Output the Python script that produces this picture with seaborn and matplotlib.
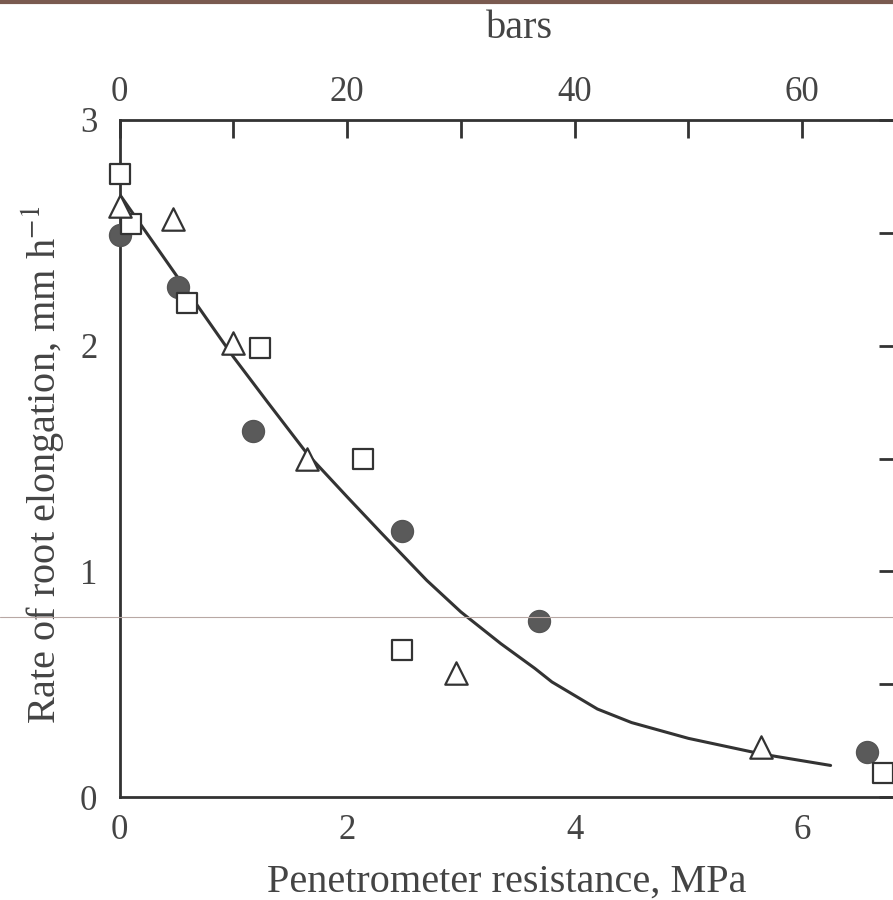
import numpy as np
import pandas as pd
import seaborn as sns
import matplotlib.pyplot as plt
from matplotlib.lines import Line2D

# Data (x in MPa, y in mm/h)
circle_x = [0.0, 0.51, 1.17, 2.48, 3.69, 6.57]
circle_y = [2.49, 2.26, 1.62, 1.18, 0.78, 0.20]

square_x = [0.0, 0.10, 0.59, 1.23, 2.14, 2.48, 6.71]
square_y = [2.76, 2.54, 2.19, 1.99, 1.50, 0.65, 0.105]

triangle_x = [0.0, 0.47, 1.0, 1.65, 2.96, 5.64]
triangle_y = [2.62, 2.56, 2.01, 1.50, 0.55, 0.22]

# fitted curve
curve_x = [0, 0.5, 1.0, 1.3, 1.65, 2.0, 2.3, 2.7, 3.0, 3.2, 3.35, 3.65, 3.8, 4.0,
           4.2, 4.5, 5.0, 5.65, 6.25]
curve_y = [2.67, 2.31, 1.95, 1.75, 1.52, 1.33, 1.17, 0.96, 0.82, 0.74, 0.68, 0.57,
           0.51, 0.45, 0.39, 0.33, 0.26, 0.19, 0.14]

x_ticks = [0, 1, 2, 3, 4, 5, 6]
x_labels = ['0', '', '2', '', '4', '', '6']
bar_ticks = [0, 10, 20, 30, 40, 50, 60]
bar_labels = ['0', '', '20', '', '40', '', '60']
y_ticks = [0, 0.5, 1, 1.5, 2, 2.5, 3]
y_labels = ['0', '', '1', '', '2', '', '3']

sns.set_style('white')
plt.rcParams['font.family'] = ['Liberation Serif', 'DejaVu Serif']
plt.rcParams['mathtext.fontset'] = 'stix'

ink = '#444444'
fig = plt.figure(figsize=(8.93, 9), dpi=100)
ax = fig.add_axes([0.134, 0.1144, 0.870, 0.7523])

sns.lineplot(x=curve_x, y=curve_y, ax=ax, sort=False, estimator=None,
             color='#333333', linewidth=2.2, zorder=2)

sns.scatterplot(x=circle_x, y=circle_y, ax=ax, marker='o', s=250, clip_on=False,
                color='#5a5a5a', edgecolor='#555555', linewidth=1, zorder=3)
sns.scatterplot(x=square_x, y=square_y, ax=ax, marker='s', s=200, clip_on=False,
                color='white', edgecolor='#333333', linewidth=1.6, zorder=3)
sns.scatterplot(x=triangle_x, y=triangle_y, ax=ax, marker='^', s=260, clip_on=False,
                color='white', edgecolor='#333333', linewidth=1.6, zorder=3)

ax.set_xlim(0, 6.83)
ax.set_ylim(0, 3)
ax.set_xticks(x_ticks, labels=x_labels)
ax.set_yticks(y_ticks, labels=y_labels)

for side in ['left', 'right', 'top', 'bottom']:
    ax.spines[side].set_color('#333333')
    ax.spines[side].set_linewidth(2)

ax.tick_params(axis='both', direction='in', length=13, width=2, color='#333333',
               labelsize=25, labelcolor=ink, right=True)
ax.tick_params(axis='x', pad=12)
ax.tick_params(axis='y', pad=16)
ax.set_xlabel('Penetrometer resistance, MPa', fontsize=29, color=ink)
ax.set_ylabel('Rate of root elongation, mm h$^{-1}$', fontsize=29, color=ink)
ax.xaxis.set_label_coords(0.498, -0.098)
ax.yaxis.set_label_coords(-0.069, 0.49)

top = ax.secondary_xaxis('top', functions=(lambda v: v * 10, lambda b: b / 10))
top.set_xticks(bar_ticks, labels=bar_labels)
top.tick_params(direction='in', length=13, width=2, color='#333333',
                labelsize=25, labelcolor=ink, pad=8)
top.set_xlabel('bars', fontsize=29, color=ink)
top.xaxis.set_label_coords(0.515, 1.121, transform=ax.transAxes)

# scan artefacts: dark band at the top edge and a faint horizontal rule
fig.add_artist(Line2D([0, 1], [0.998, 0.998], transform=fig.transFigure,
                      color='#7a5a50', linewidth=3))
fig.add_artist(Line2D([0, 1], [1 - 617 / 900, 1 - 617 / 900], transform=fig.transFigure,
                      color='#b8a8a4', linewidth=0.8))

fig.savefig('out.png', dpi=100)
